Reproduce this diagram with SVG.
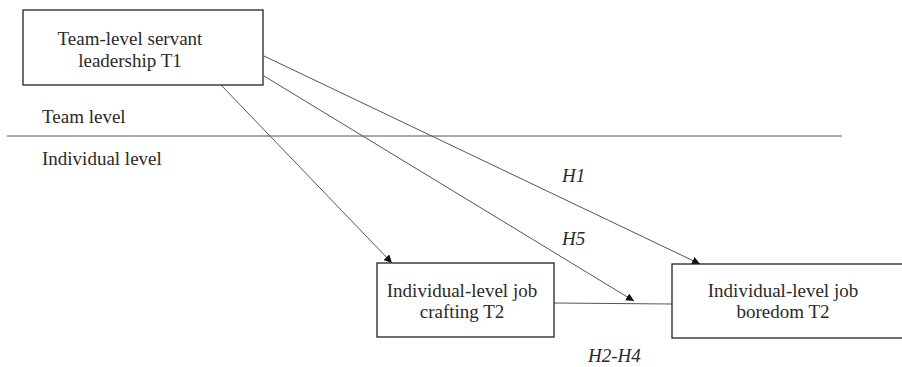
<svg xmlns="http://www.w3.org/2000/svg" width="902" height="367" viewBox="0 0 902 367">
<defs>
<style>
.box{fill:#fff;stroke:#222;stroke-width:1.3}
.t{font-family:"Liberation Serif","Times New Roman",serif;font-size:19px;fill:#2a2a2a}
.c{text-anchor:middle}
.i{font-style:italic}
.ln{stroke:#555;stroke-width:1;fill:none}
</style>
<marker id="ah" viewBox="0 0 10 10" refX="10" refY="5" markerWidth="8" markerHeight="8" markerUnits="userSpaceOnUse" orient="auto">
<path d="M0,0 L10,5 L0,10 z" fill="#111"/>
</marker>
</defs>
<rect width="902" height="367" fill="#fff"/>
<g id="levels">
<line x1="7" y1="136" x2="842" y2="136" class="ln"/>
<text x="42" y="123" class="t">Team level</text>
<text x="42" y="165" class="t">Individual level</text>
</g>
<g id="connectors">
<line x1="221" y1="85" x2="392" y2="263" class="ln" marker-end="url(#ah)"/>
<line x1="264" y1="76" x2="634" y2="301" class="ln" marker-end="url(#ah)"/>
<line x1="264" y1="56" x2="700" y2="264" class="ln" marker-end="url(#ah)"/>
<line x1="554" y1="303" x2="672" y2="304" class="ln"/>
<text x="562" y="182" class="t i">H1</text>
<text x="562" y="245" class="t i">H5</text>
<text x="588" y="362" class="t i">H2-H4</text>
</g>
<g id="servant">
<rect x="23" y="10" width="240" height="75" class="box"/>
<text x="130" y="45" class="t c">Team-level servant</text>
<text x="130" y="67" class="t c">leadership T1</text>
</g>
<g id="crafting">
<rect x="377" y="263" width="177" height="74" class="box"/>
<text x="462" y="297" class="t c">Individual-level job</text>
<text x="462" y="318" class="t c">crafting T2</text>
</g>
<g id="boredom">
<rect x="672" y="264" width="240" height="74" class="box"/>
<text x="783" y="297" class="t c">Individual-level job</text>
<text x="783" y="318" class="t c">boredom T2</text>
</g>
</svg>
